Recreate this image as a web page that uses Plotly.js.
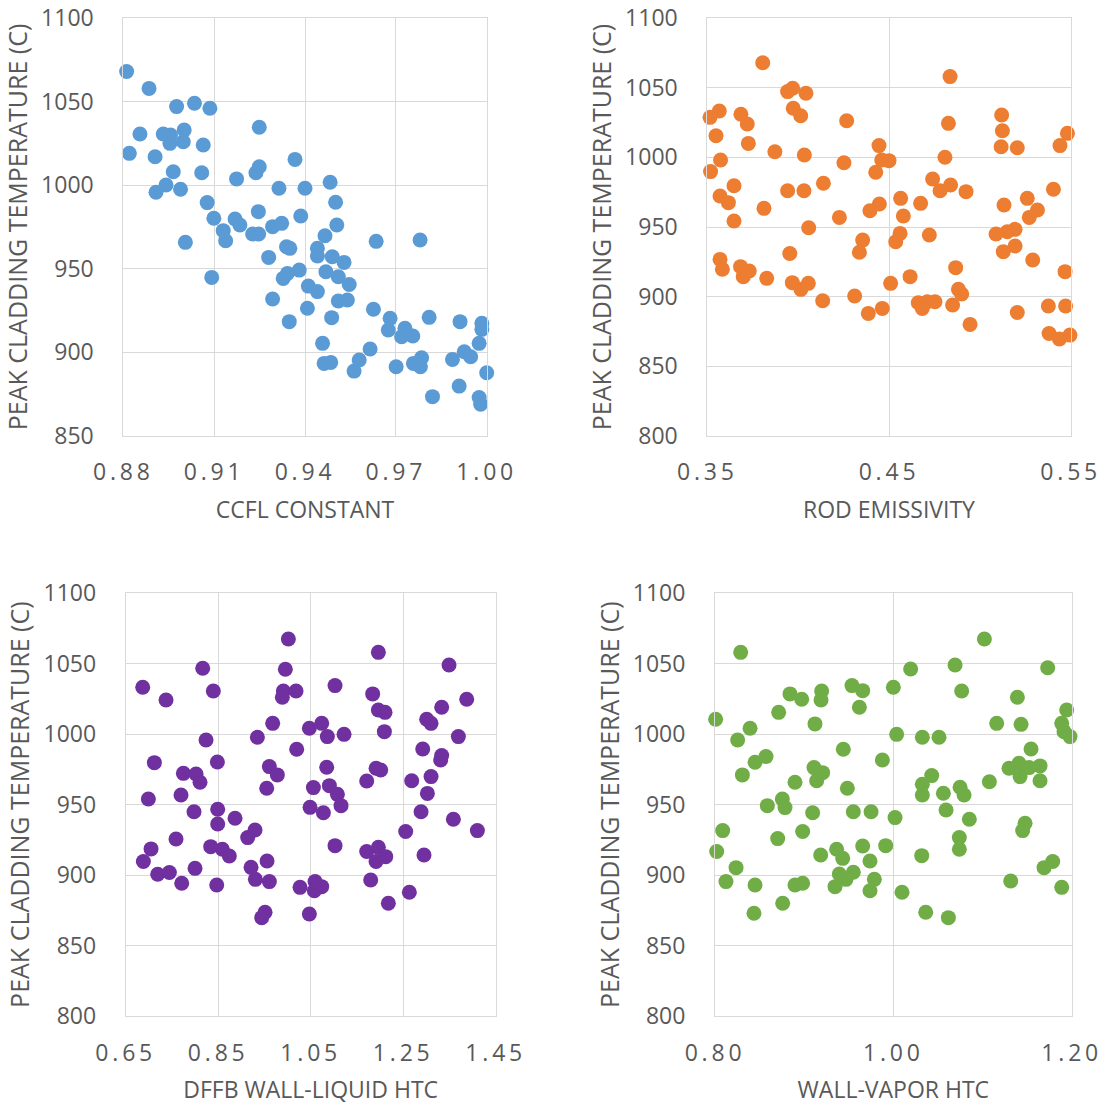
<!DOCTYPE html>
<html>
<head>
<meta charset="utf-8">
<script src="https://cdn.plot.ly/plotly-3.0.1.min.js"></script>
<style>
html, body { margin: 0; padding: 0; background: #ffffff; }
#chart { width: 1105px; height: 1108px; }
.xtick text, .x2tick text, .x3tick text, .x4tick text { letter-spacing: 3.8px; }
</style>
</head>
<body>
<div id="chart"></div>
<script>
// ---- Data ----
const yTitle = "PEAK CLADDING TEMPERATURE (C)";

const ccflTitle = "CCFL CONSTANT";
const ccflX = [0.8811,0.8885,0.8976,0.9035,0.9086,0.9249,0.8855,0.8932,0.8956,0.9001,0.8954,0.8998,0.9064,0.8820,0.8905,0.9367,0.8965,0.9059,0.9249,0.9238,0.9174,0.8941,0.8908,0.8989,0.9314,0.9400,0.9483,0.9501,0.9077,0.9099,0.9169,0.9185,0.9246,0.9293,0.9323,0.9386,0.9505,0.9130,0.9138,0.9227,0.9247,0.9005,0.9466,0.9635,0.9780,0.9339,0.9350,0.9441,0.9441,0.9490,0.9529,0.9280,0.9092,0.9381,0.9342,0.9328,0.9469,0.9510,0.9546,0.9411,0.9441,0.9293,0.9408,0.9510,0.9540,0.9348,0.9488,0.9626,0.9681,0.9675,0.9730,0.9719,0.9756,0.9810,0.9912,0.9984,0.9984,0.9975,0.9458,0.9615,0.9926,0.9947,0.9887,0.9785,0.9781,0.9758,0.9701,0.9579,0.9562,0.9463,0.9485,1.0000,0.9909,0.9821,0.9975,0.9980];
const ccflY = [1068.1,1058,1047.1,1049.1,1046.1,1034.7,1030.7,1030.7,1030.1,1033.1,1025.1,1026.1,1024.1,1019.1,1017.1,1015.5,1008.1,1007.5,1011.1,1007.5,1003.8,1000.2,995.8,997.6,998.2,998.2,1001.8,989.8,989.6,980.2,979.8,976.2,984.2,975.2,977.2,981.6,976.2,972.8,966.8,970.8,970.8,965.8,969.8,966.4,967.2,963.2,962.2,962.2,957.6,957.2,953.8,956.8,944.8,949.2,947.2,944.2,948.2,945.2,940.6,939.6,936.3,931.9,926.3,930.7,931.3,918.3,920.7,925.7,920.3,913.3,914.3,909.3,909.7,920.9,918.3,917.3,913.7,905.3,905.3,901.9,900.3,897.3,895.7,896.7,891.3,893.3,891.3,895.3,888.7,893.3,893.9,887.7,879.7,873.4,872.9,868.9];

const emisTitle = "ROD EMISSIVITY";
const emisX = [0.3805,0.4836,0.3942,0.3970,0.4043,0.3973,0.4014,0.3515,0.3566,0.3685,0.3720,0.4267,0.4827,0.5120,0.5124,0.3548,0.3726,0.5482,0.5441,0.5117,0.5206,0.4445,0.3872,0.4034,0.4808,0.4460,0.4500,0.3573,0.4252,0.3518,0.4427,0.3647,0.4139,0.4740,0.4839,0.4781,0.4924,0.5405,0.3570,0.3616,0.3942,0.4032,0.3812,0.4564,0.4674,0.4447,0.4395,0.4579,0.4227,0.5133,0.5261,0.5317,0.5272,0.3647,0.4058,0.5194,0.5151,0.5089,0.5194,0.5129,0.5291,0.4561,0.4537,0.4355,0.4337,0.4722,0.3954,0.3570,0.3583,0.3683,0.3731,0.3698,0.3827,0.3968,0.4056,0.4015,0.4867,0.5469,0.4509,0.4616,0.4882,0.4900,0.4135,0.4311,0.4661,0.4711,0.4753,0.4683,0.4850,0.4463,0.4386,0.5206,0.5377,0.5472,0.4946,0.5381,0.5438,0.5496];
const emisY = [1068.1,1058.1,1047.3,1049.7,1046.1,1035.3,1030.0,1028.8,1033.4,1031.0,1024.0,1026.4,1024.5,1030.5,1019.2,1015.6,1010.1,1017.3,1008.5,1007.7,1007.0,1008.5,1004.1,1001.7,1000.1,998.2,997.7,998.2,996.2,989.8,989.3,979.7,981.4,984.5,980.2,976.1,975.4,977.1,972.3,967.5,976.1,976.1,963.4,970.6,967.0,966.5,961.7,957.9,956.9,965.8,970.6,962.2,956.9,954.3,949.5,948.3,946.6,945.0,936.3,932.3,926.3,945.4,939.4,940.6,931.8,944.2,931.0,926.7,919.6,921.5,918.4,914.3,913.1,910.0,909.5,905.2,920.8,917.9,909.5,914.3,905.2,901.8,897.0,900.4,895.6,896.3,896.3,891.5,893.9,891.5,887.9,888.6,893.2,893.2,880.0,873.5,869.5,872.3];

const dffbTitle = "DFFB WALL-LIQUID HTC";
const dffbX = [1.0017,1.1963,1.3491,0.8165,0.9952,0.6868,0.7372,0.8395,0.9909,1.0183,0.9887,1.1026,1.1840,1.1963,1.2107,1.3873,1.3332,1.3008,1.3102,0.9678,1.0471,1.0738,1.0860,1.1221,1.2093,0.9347,1.3693,0.8237,1.0197,1.2922,1.3332,1.3310,0.7120,0.8482,0.7747,0.8021,0.8107,0.9606,0.9779,0.9549,1.0846,1.1913,1.2014,1.1711,1.2684,1.3102,1.0558,1.0904,1.1077,1.1156,0.6990,0.7696,1.3023,0.7977,0.8489,0.8489,0.8864,1.0486,1.0774,1.2886,1.3585,1.4104,1.2554,0.9296,0.9138,0.7588,0.7048,0.6882,0.8338,0.8590,0.8741,1.1026,1.1711,1.1963,1.2122,1.1913,1.2950,0.7192,0.7444,0.7999,0.9210,0.9556,0.7711,0.8468,0.9304,0.9606,1.0269,1.0594,1.0738,1.0579,1.1797,1.2633,1.2179,1.0471,0.9513,0.9441];
const dffbY = [1067.6,1058.1,1049.1,1046.8,1046.1,1033.3,1024.3,1030.7,1030.7,1030.7,1026.2,1034.5,1028.6,1017.2,1015.5,1024.8,1019.1,1010.6,1007.7,1007.7,1004.2,1007.7,998.3,999.9,1001.8,997.8,998.3,995.9,989.3,989.5,984.8,981.7,979.8,980.3,972.2,971.8,965.9,977.0,971.1,961.6,976.5,975.8,974.6,966.8,967.0,969.9,962.1,963.5,957.3,949.3,954.0,956.9,958.0,945.0,946.7,936.3,940.3,948.1,944.3,945.0,939.6,931.6,930.9,932.0,926.6,925.6,918.6,909.6,920.2,918.3,913.6,920.9,916.7,919.7,913.1,909.6,914.3,900.6,901.8,904.8,905.5,910.0,894.2,893.0,897.0,895.4,891.3,895.4,891.8,888.9,896.5,887.8,880.0,872.4,873.6,869.8];

const vaporTitle = "WALL-VAPOR HTC";
const vaporX = [1.1021,0.8288,1.0692,1.1731,1.0194,1.0000,1.0766,0.9536,0.9656,0.9196,0.9189,0.8841,0.8972,0.9619,1.1391,0.8714,1.1944,0.8007,0.9121,1.1159,1.1432,1.1888,1.1914,1.1981,0.8393,0.8254,1.0037,1.0325,1.0512,0.9439,1.1544,0.9877,0.8449,0.8572,0.8307,0.9110,0.9207,0.9140,0.8897,0.9484,1.1297,1.1409,1.1421,1.1522,1.1645,1.1645,1.0430,1.0325,1.0325,1.0561,1.0748,1.0793,1.1077,0.8755,0.8785,0.8587,0.9095,0.9551,0.9750,1.0019,1.0591,1.0852,1.1477,1.1450,0.8086,0.8703,0.8983,1.0740,1.0740,0.8019,0.8236,0.9185,0.9364,0.9432,0.9656,0.9914,0.9738,1.0318,1.1690,1.1787,0.8123,0.8449,0.8897,0.8983,0.9394,0.9551,0.9469,0.9346,0.9787,0.9738,1.0097,1.1316,1.1888,0.8759,0.8437,1.0363,1.0617];
const vaporY = [1067.6,1058.1,1049.1,1047.2,1046.3,1033.3,1030.7,1034.5,1030.9,1030.7,1024.3,1028.6,1024.8,1019.1,1026.2,1015.5,1017.2,1010.6,1007.3,1007.7,1007.0,1007.7,1001.8,998.3,1004.2,995.9,999.9,997.8,997.8,989.3,989.5,981.7,980.1,984.1,971.1,976.3,972.7,967.0,965.9,961.6,975.8,979.4,969.9,976.3,977.5,967.0,970.6,964.4,956.9,958.1,962.3,956.9,966.3,954.0,947.9,949.3,944.3,945.0,945.0,940.8,946.2,939.6,936.8,931.6,931.6,925.9,930.9,926.6,918.3,916.7,905.3,914.3,918.3,911.9,920.7,920.9,910.0,913.8,905.3,909.6,895.4,893.0,893.0,894.2,900.8,902.0,897.0,891.8,897.0,888.9,887.8,895.8,891.3,880.0,872.9,873.6,869.8];

// ---- Styling ----
const FONT = "Open Sans, sans-serif";
const GRAY = "#595959";
const GRID = "#d9d9d9";
const W = 1105, H = 1108;

function dom(a, b, total) { return [a / total, b / total]; }
function ydom(top, bottom) { return [(H - bottom) / H, (H - top) / H]; }

function xAxis(domain, anchor, range, dtick, title) {
  return {
    domain: domain, anchor: anchor, range: range, dtick: dtick, tick0: range[0],
    tickformat: ".2f", showgrid: true, gridcolor: GRID, gridwidth: 1,
    showline: true, linecolor: GRID, linewidth: 1, mirror: true, zeroline: false,
    ticks: "", ticklabelstandoff: 16,
    tickfont: { family: FONT, size: 23, color: GRAY },
    title: { text: title, font: { family: FONT, size: 23, color: GRAY }, standoff: 15 },
    fixedrange: true
  };
}
function yAxis(domain, anchor, range) {
  return {
    domain: domain, anchor: anchor, range: range, dtick: 50, tick0: 800,
    showgrid: true, gridcolor: GRID, gridwidth: 1,
    showline: true, linecolor: GRID, linewidth: 1, mirror: true, zeroline: false,
    ticks: "", ticklabelstandoff: 24,
    tickfont: { family: FONT, size: 23, color: GRAY },
    title: { text: yTitle, font: { family: FONT, size: 25, color: GRAY }, standoff: 6 },
    fixedrange: true
  };
}
function trace(x, y, color, xa, ya) {
  return {
    type: "scatter", mode: "markers", x: x, y: y, xaxis: xa, yaxis: ya,
    cliponaxis: false, hoverinfo: "x+y",
    marker: { size: 15, color: color, line: { width: 0 } }
  };
}

const data = [
  trace(ccflX, ccflY, "#5B9BD5", "x", "y"),
  trace(emisX, emisY, "#ED7D31", "x2", "y2"),
  trace(dffbX, dffbY, "#7030A0", "x3", "y3"),
  trace(vaporX, vaporY, "#70AD47", "x4", "y4")
];

const layout = {
  width: W, height: H,
  margin: { l: 0, r: 0, t: 0, b: 0, pad: 0 },
  paper_bgcolor: "#ffffff", plot_bgcolor: "#ffffff",
  showlegend: false,
  font: { family: FONT, color: GRAY },
  xaxis:  xAxis(dom(123.3, 486.7, W), "y",  [0.88, 1.00], 0.03, ccflTitle),
  yaxis:  yAxis(ydom(18.3, 435.7), "x", [850, 1100]),
  xaxis2: xAxis(dom(707.3, 1070.7, W), "y2", [0.35, 0.55], 0.1, emisTitle),
  yaxis2: yAxis(ydom(18.3, 435.7), "x2", [800, 1100]),
  xaxis3: xAxis(dom(125.7, 495.7, W), "y3", [0.65, 1.45], 0.2, dffbTitle),
  yaxis3: yAxis(ydom(593.3, 1016), "x3", [800, 1100]),
  xaxis4: xAxis(dom(715, 1071.7, W), "y4", [0.80, 1.20], 0.2, vaporTitle),
  yaxis4: yAxis(ydom(593.3, 1016), "x4", [800, 1100])
};

Plotly.newPlot("chart", data, layout, { displayModeBar: false, staticPlot: false });
</script>
</body>
</html>
